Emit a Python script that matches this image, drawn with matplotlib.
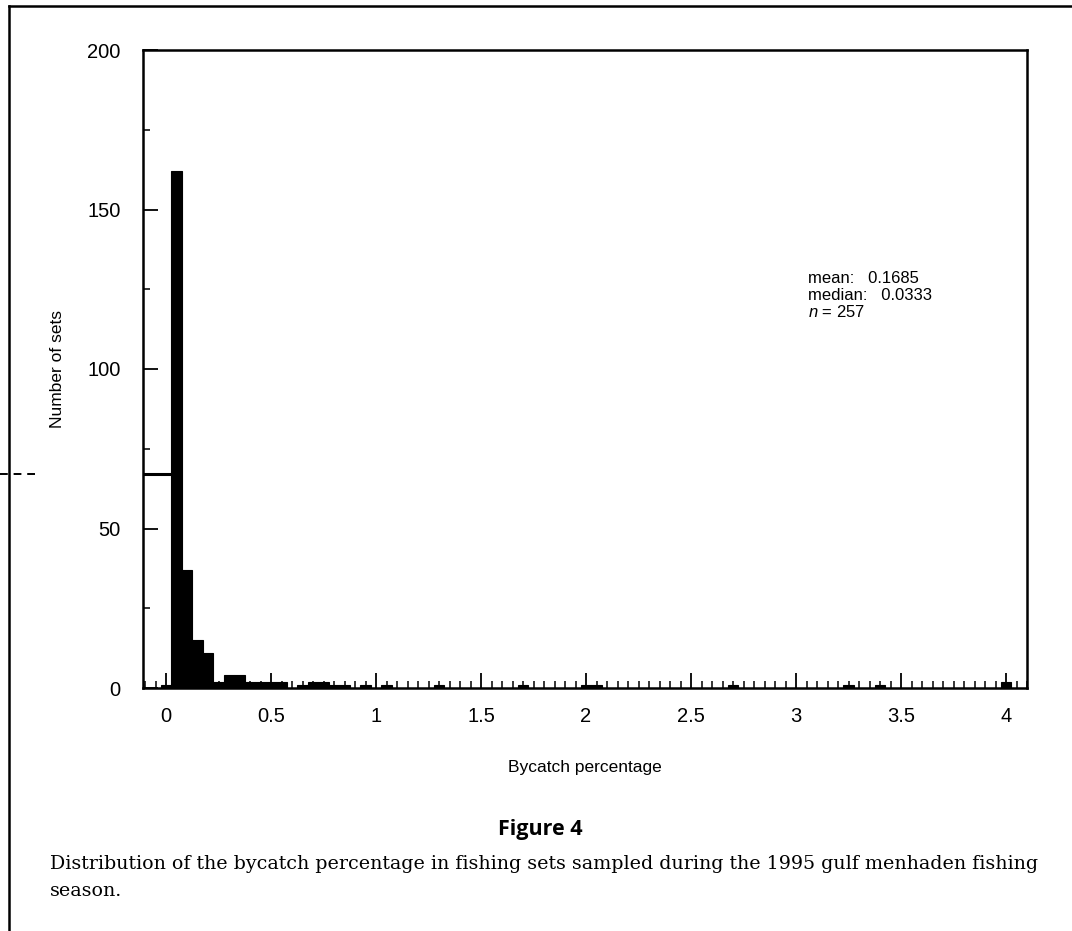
import numpy as np
import matplotlib
matplotlib.use("Agg")
import matplotlib.pyplot as plt
from matplotlib.lines import Line2D
from matplotlib.ticker import MultipleLocator

plt.rcParams['font.family'] = ['Liberation Sans', 'DejaVu Sans']
plt.rcParams['mathtext.fontset'] = 'custom'
plt.rcParams['mathtext.it'] = 'Liberation Sans:italic'
plt.rcParams['mathtext.rm'] = 'Liberation Sans'

# histogram bin centres (bycatch percentage, 0.05 wide) and number of sets
bin_centres = [0.0, 0.05, 0.10, 0.15, 0.20, 0.25, 0.30, 0.35, 0.40, 0.45,
               0.50, 0.55, 0.65, 0.70, 0.75, 0.80, 0.85, 0.95, 1.05, 1.30,
               1.70, 2.00, 2.05, 2.70, 3.25, 3.40, 4.00]
set_counts = [1, 162, 37, 15, 11, 2, 4, 4, 2, 2,
              2, 2, 1, 2, 2, 1, 1, 1, 1, 1,
              1, 1, 1, 1, 1, 1, 2]
x_ticks = [0, 0.5, 1, 1.5, 2, 2.5, 3, 3.5, 4]
x_tick_labels = ['0', '0.5', '1', '1.5', '2', '2.5', '3', '3.5', '4']
y_ticks = [0, 50, 100, 150, 200]
stats_lines = ['mean:   0.1685', 'median:   0.0333', '$n$ = 257']
marker_level = 67

W, H = 1072, 931
fig = plt.figure(figsize=(W / 100, H / 100), dpi=100)
ax = fig.add_axes([143 / W, 1 - 688 / H, (1027 - 143) / W, (688 - 50) / H])

ax.bar(bin_centres, set_counts, width=0.05, color='black', edgecolor='black',
       linewidth=0.8)
ax.set_xlim(-0.11, 4.1)
ax.set_ylim(0, 200)

ax.set_xticks(x_ticks)
ax.set_xticklabels(x_tick_labels)
ax.set_yticks(y_ticks)
ax.xaxis.set_minor_locator(MultipleLocator(0.05))
ax.yaxis.set_minor_locator(MultipleLocator(25))
ax.tick_params(which='major', direction='in', length=11, width=1.3,
               labelsize=14.5, pad=14, colors='black')
ax.tick_params(which='minor', direction='in', length=5, width=1.1)
ax.tick_params(axis='y', which='major', pad=16)
for s in ax.spines.values():
    s.set_linewidth(1.8)

ax.set_xlabel('Bycatch percentage', fontsize=12.5, labelpad=24)
ax.set_ylabel('Number of sets', fontsize=12.5, labelpad=16)

ax.text(0.752, 0.653, '\n'.join(stats_lines), transform=ax.transAxes,
        fontsize=12, va='top', ha='left', linespacing=1.1)

# stray marker line at the left (from the scanned page)
ax.plot([-0.11, 0.075], [marker_level, marker_level], color='black', lw=2.2,
        solid_capstyle='butt', clip_on=False)
trans = matplotlib.transforms.blended_transform_factory(ax.transAxes, ax.transData)
ax.plot([-0.162, -0.117], [marker_level, marker_level], color='black', lw=1.4,
        ls=(0, (4, 3)), transform=trans, clip_on=False)

# page frame (top and left edges)
fig.add_artist(Line2D([9 / W, 1], [1 - 6 / H, 1 - 6 / H], color='black', lw=1.8))
fig.add_artist(Line2D([9 / W, 9 / W], [0, 1 - 6 / H], color='black', lw=1.8))

fig.text(540 / W, 1 - 830 / H, 'Figure 4', fontsize=15.5, fontweight='bold',
         family=['Open Sans', 'DejaVu Sans'], ha='center', va='center')
fig.text(50 / W, 1 - 864 / H,
         'Distribution of the bycatch percentage in fishing sets sampled during '
         'the 1995 gulf menhaden fishing', fontsize=13.7,
         family=['DejaVu Serif'], ha='left', va='center')
fig.text(50 / W, 1 - 891 / H, 'season.', fontsize=13.7,
         family=['DejaVu Serif'], ha='left', va='center')

fig.savefig('out.png', dpi=100)
